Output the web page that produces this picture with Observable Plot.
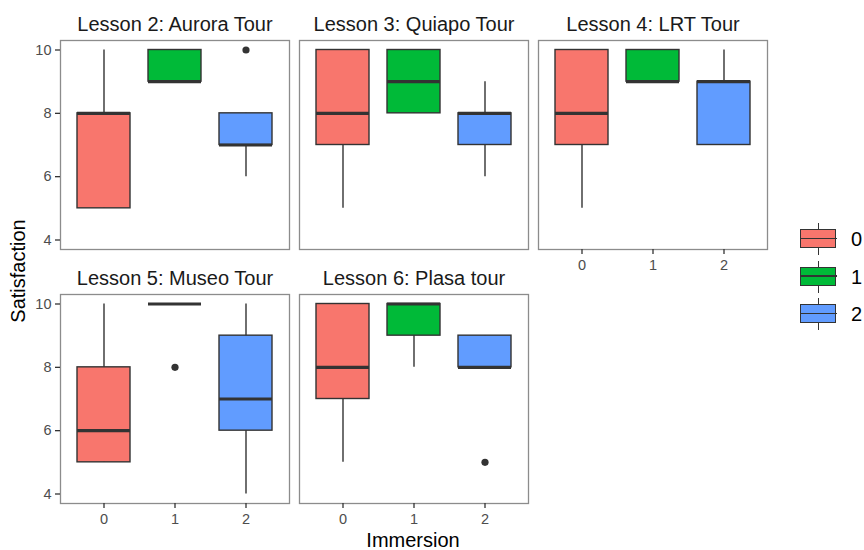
<!DOCTYPE html>
<html>
<head>
<meta charset="utf-8">
<script src="https://cdn.jsdelivr.net/npm/d3@7"></script>
<script src="https://cdn.jsdelivr.net/npm/@observablehq/plot@0.6"></script>
<style>
  body { margin: 0; background: #fff; font-family: "Liberation Sans", Arial, sans-serif; }
  #wrap { position: relative; width: 864px; height: 550px; overflow: hidden; }
  #wrap svg { position: absolute; left: 0; top: 0; }
  .ytitle { position: absolute; left: 18px; top: 271px; transform: translate(-50%, -50%) rotate(-90deg); font-size: 20px; color: #000; white-space: nowrap; }
  .xtitle { position: absolute; left: 413px; top: 530px; transform: translateX(-50%); font-size: 20px; color: #000; white-space: nowrap; line-height: 20px; }
  .legend { position: absolute; left: 800px; top: 223px; }
  .key { position: relative; width: 37px; height: 37.5px; }
  .key .wh { position: absolute; left: 17.5px; top: 0; width: 1.4px; height: 32px; background: #333; }
  .key .bx { position: absolute; left: 0; top: 6px; width: 34px; height: 17px; border: 1.4px solid #333; }
  .key .md { position: absolute; left: 0; top: 14.5px; width: 36.8px; height: 1.5px; background: #333; }
  .key .lb { position: absolute; left: 51px; top: 4px; font-size: 20px; color: #000; line-height: 24px; }
</style>
</head>
<body>
<div id="wrap"></div>
<script>
// ---- data ----
const lessons = ["Lesson 2: Aurora Tour", "Lesson 3: Quiapo Tour", "Lesson 4: LRT Tour", "Lesson 5: Museo Tour", "Lesson 6: Plasa tour"];
const immersion = ["0", "1", "2"];
const colors = ["#F8766D", "#00BA38", "#619CFF"];
// per lesson, per immersion level
const whiskerLow  = [[5, 9, 6], [5, 8, 6], [5, 9, 7], [5, 10, 4], [5, 8, 8]];
const q1          = [[5, 9, 7], [7, 8, 7], [7, 9, 7], [5, 10, 6], [7, 9, 8]];
const median      = [[8, 9, 7], [8, 9, 8], [8, 9, 9], [6, 10, 7], [8, 10, 8]];
const q3          = [[8, 10, 8], [10, 10, 8], [10, 10, 9], [8, 10, 9], [10, 10, 9]];
const whiskerHigh = [[10, 10, 8], [10, 10, 9], [10, 10, 10], [10, 10, 10], [10, 10, 9]];
const outlierLesson = ["Lesson 2: Aurora Tour", "Lesson 5: Museo Tour", "Lesson 6: Plasa tour"];
const outlierImmersion = ["2", "1", "2"];
const outlierValue = [10, 8, 5];
const yTicks = [4, 6, 8, 10];

// ---- tables ----
const col = (l) => lessons.indexOf(l) % 3;
const row = (l) => Math.floor(lessons.indexOf(l) / 3);
const boxes = lessons.flatMap((l, i) => immersion.map((im, j) => ({
  lesson: l, col: col(l), row: row(l), imm: im,
  lo: whiskerLow[i][j], q1: q1[i][j], med: median[i][j], q3: q3[i][j], hi: whiskerHigh[i][j]
})));
const outliers = outlierLesson.map((l, k) => ({lesson: l, col: col(l), row: row(l), imm: outlierImmersion[k], v: outlierValue[k]}));
const titles = lessons.map(l => ({lesson: l, col: col(l), row: row(l)}));

const ink = "#333333";
const plot = Plot.plot({
  width: 864,
  height: 550,
  marginLeft: 59,
  marginRight: 97,
  marginTop: 39,
  marginBottom: 47,
  style: {fontFamily: "'Liberation Sans', Arial, sans-serif", background: "transparent"},
  facet: {marginTop: 0, marginRight: 0, marginBottom: 0, marginLeft: 0},
  fx: {axis: null, domain: [0, 1, 2], paddingInner: 0.042, paddingOuter: 0},
  fy: {axis: null, domain: [0, 1], paddingInner: 0.179, paddingOuter: 0},
  x: {domain: immersion, paddingInner: 0.25, paddingOuter: 0.225, axis: null},
  y: {domain: [3.7, 10.3], axis: null},
  color: {domain: immersion, range: colors},
  marks: [
    Plot.frame({stroke: "#8c8c8c", strokeWidth: 1.3}),
    Plot.ruleX(boxes, {x: "imm", y1: "lo", y2: "hi", fx: "col", fy: "row", stroke: ink, strokeWidth: 1.4}),
    Plot.barY(boxes, {x: "imm", y1: "q1", y2: "q3", fx: "col", fy: "row", fill: "imm", stroke: ink, strokeWidth: 1.4}),
    Plot.tickY(boxes, {x: "imm", y: "med", fx: "col", fy: "row", stroke: ink, strokeWidth: 3.2}),
    Plot.dot(outliers, {x: "imm", y: "v", fx: "col", fy: "row", r: 3.6, fill: ink, stroke: "none"}),
    Plot.text(titles, {text: "lesson", fx: "col", fy: "row", frameAnchor: "top", lineAnchor: "bottom", dy: -10, fontSize: 20, fill: "#1a1a1a", className: "strip"}),
    Plot.axisY({ticks: yTicks, tickFormat: d3.format("d"), tickSize: 5, tickPadding: 4, label: null, stroke: ink, fill: "#4d4d4d", strokeWidth: 1.3}),
    Plot.axisX({tickSize: 5, tickPadding: 5, label: null, stroke: ink, fill: "#4d4d4d", strokeWidth: 1.3})
  ]
});

// tick labels: force the intended size (strip titles keep 20px)
d3.select(plot).selectAll("text").each(function () {
  const g = this.parentNode;
  if (g.getAttribute("font-size") === "20") this.style.fontSize = "20px";
  else this.style.fontSize = "14.5px";
});

const wrap = document.getElementById("wrap");
wrap.appendChild(plot);

const yt = document.createElement("div");
yt.className = "ytitle"; yt.textContent = "Satisfaction";
wrap.appendChild(yt);
const xt = document.createElement("div");
xt.className = "xtitle"; xt.textContent = "Immersion";
wrap.appendChild(xt);

const legend = document.createElement("div");
legend.className = "legend";
immersion.forEach((im, i) => {
  const k = document.createElement("div");
  k.className = "key";
  k.innerHTML = `<div class="wh"></div><div class="bx" style="background:${colors[i]}"></div><div class="md"></div><div class="lb">${im}</div>`;
  legend.appendChild(k);
});
wrap.appendChild(legend);
</script>
</body>
</html>
